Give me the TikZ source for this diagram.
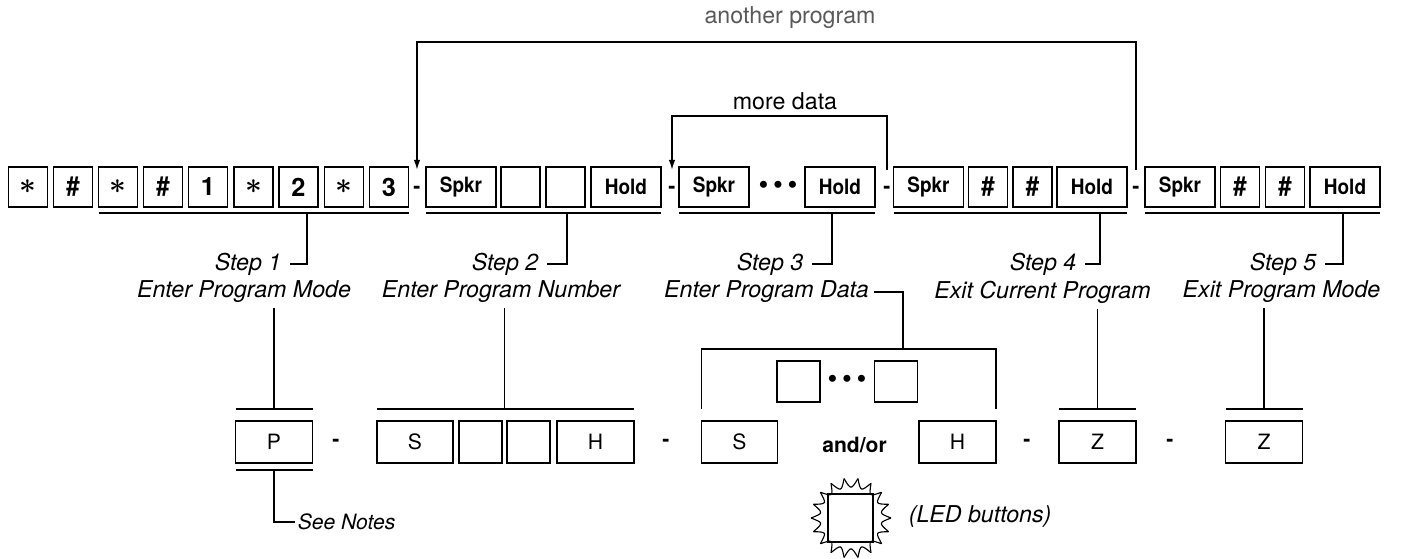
\documentclass[tikz,border=0pt]{standalone}
\usepackage{fontspec}
\setmainfont{TeX Gyre Heros}
\newfontfamily\keyface[FakeStretch=0.9]{TeX Gyre Heros}
\usetikzlibrary{calc, arrows.meta}

\newcommand{\lblfont}{\fontsize{16.5}{18}\selectfont\itshape}
\newcommand{\keyfnt}{\keyface\fontsize{15}{17}\selectfont\bfseries}
\newcommand{\digfnt}{\fontsize{18}{20}\selectfont\bfseries}
\newcommand{\boxfnt}{\fontsize{15}{17}\selectfont}
\newcommand{\astk}{{\fontsize{22}{22}\selectfont\boldmath$\ast$}}
\newcommand{\hsh}{{\fontsize{19}{20}\selectfont\bfseries\#}}
\newcommand{\threedots}{{\fontsize{20}{20}\selectfont
    \textbullet\,\textbullet\,\textbullet}}

\begin{document}
\begin{tikzpicture}[x=0.25mm, y=-0.25mm, line width=1.1pt,
    keysm/.style={draw, line width=1.2pt, minimum width=9.75mm,
                  minimum height=10mm, inner sep=0pt, outer sep=0pt,
                  font=\keyfnt},
    keybig/.style={keysm, minimum width=17.5mm},
    sepdash/.style={inner sep=0pt, outer sep=0pt, minimum height=10mm,
                    font=\boxfnt\bfseries},
    btn/.style={draw, line width=1.2pt, minimum width=19.25mm,
                minimum height=10.5mm, inner sep=0pt, outer sep=0pt,
                font=\boxfnt},
    btnsm/.style={btn, minimum width=10.75mm},
    steplbl/.style={font=\lblfont, anchor=east, inner sep=2mm},
    title/.style={font=\lblfont},
    flow/.style={-{Latex[length=2.5mm,width=1.6mm]}}]
    \useasboundingbox (0,0) rectangle (1407,559);

    % ── Step 1 keys: * # * # 1 * 2 * 3 ───────────────────────────────
    \node[keysm] (k1) at (28,187)    {\astk};
    \node[keysm] (k2) at (73,187)    {\hsh};
    \node[keysm] (k3) at (118,187)   {\astk};
    \node[keysm] (k4) at (163,187)   {\hsh};
    \node[keysm, font=\digfnt] (k5) at (208,187) {1};
    \node[keysm] (k6) at (253.5,187) {\astk};
    \node[keysm, font=\digfnt] (k7) at (298.5,187) {2};
    \node[keysm] (k8) at (344,187)   {\astk};
    \node[keysm, font=\digfnt] (k9) at (389,187) {3};
    \node[sepdash] (d1) at (417,190) {-};

    % ── Step 2 keys ──────────────────────────────────────────────────
    \node[keybig] (spk2) at (461,187)   {Spkr};
    \node[keysm]  (b2a)  at (520.5,187) {};
    \node[keysm]  (b2b)  at (565.5,187) {};
    \node[keybig] (hld2) at (626,187)   {Hold};
    \node[sepdash] (d2) at (672,190) {-};

    % ── Step 3 keys ──────────────────────────────────────────────────
    \node[keybig] (spk3) at (714,187) {Spkr};
    \node (dots3) at (778,188) {\threedots};
    \node[keybig] (hld3) at (840,187) {Hold};
    \node[sepdash] (d3) at (887,190) {-};

    % ── Step 4 keys ──────────────────────────────────────────────────
    \node[keybig] (spk4) at (928.5,187)  {Spkr};
    \node[keysm]  (h4a)  at (988,187)    {\hsh};
    \node[keysm]  (h4b)  at (1032.5,187) {\hsh};
    \node[keybig] (hld4) at (1092,187)   {Hold};
    \node[sepdash] (d4) at (1136,190) {-};

    % ── Step 5 keys ──────────────────────────────────────────────────
    \node[keybig] (spk5) at (1180,187) {Spkr};
    \node[keysm]  (h5a)  at (1240,187) {\hsh};
    \node[keysm]  (h5b)  at (1285,187) {\hsh};
    \node[keybig] (hld5) at (1345,187) {Hold};

    % ── Loops back ───────────────────────────────────────────────────
    \coordinate (apTop) at (775,42);
    \coordinate (mdTop) at (775,116);
    \node[font=\fontsize{16.5}{18}\selectfont, text=black!65] (aptxt)
          at (790,18) {another program};
    \node[font=\fontsize{16.5}{18}\selectfont] (mdtxt)
          at (785,101) {more data};
    \draw[flow] (d4.north) |- (apTop) -| (d1.north);
    \draw[flow] (d3.north) |- (mdTop) -| (d2.north);

    % ── Underlines and step labels ───────────────────────────────────
    \draw ([yshift=-1.5mm]k3.south west) -- ([yshift=-1.5mm]k9.south east);
    \draw ([yshift=-1.5mm]spk2.south west) -- ([yshift=-1.5mm]hld2.south east);
    \draw ([yshift=-1.5mm]spk3.south west) -- ([yshift=-1.5mm]hld3.south east);
    \draw ([yshift=-1.5mm]spk4.south west) -- ([yshift=-1.5mm]hld4.south east);
    \draw ([yshift=-1.5mm]spk5.south west) -- ([yshift=-1.5mm]hld5.south east);
    \coordinate (u1) at (307,213);
    \coordinate (u2) at (567,213);
    \coordinate (u3) at (832,213);
    \coordinate (u4) at (1100,213);
    \coordinate (u5) at (1343,213);

    \node[steplbl] (s1) at (290,264)  {Step 1};
    \node[steplbl] (s2) at (547,264)  {Step 2};
    \node[steplbl] (s3) at (812,264)  {Step 3};
    \node[steplbl] (s4) at (1085,264) {Step 4};
    \node[steplbl] (s5) at (1325,264) {Step 5};
    \draw (u1) |- (s1.east);
    \draw (u2) |- (s2.east);
    \draw (u3) |- (s3.east);
    \draw (u4) |- (s4.east);
    \draw (u5) |- (s5.east);

    \node[title] (t1) at (244,292)    {Enter Program Mode};
    \node[title] (t2) at (501,292)    {Enter Program Number};
    \node[title] (t3) at (766.5,292)  {Enter Program Data};
    \node[title] (t4) at (1042.5,292) {Exit Current Program};
    \node[title] (t5) at (1281.5,292) {Exit Program Mode};

    % ── LED button row ───────────────────────────────────────────────
    \node[btn] (p1) at (274,442) {P};
    \node[sepdash] (d5) at (336,443) {-};
    \node[btn, minimum width=19mm] (s2b) at (415,442) {S};
    \node[btnsm] (b2c) at (480.5,442) {};
    \node[btnsm] (b2d) at (528.5,442) {};
    \node[btn] (h2b) at (595.5,442) {H};
    \node[sepdash] (d6) at (666,443) {-};
    \node[btn, minimum width=19mm] (s3b) at (739.5,442) {S};
    \node[font=\boxfnt\bfseries] (andor) at (854.5,445) {and/or};
    \node[btn] (h3b) at (957.5,442) {H};
    \node[btnsm, minimum height=10.25mm] (e3a) at (798.5,381.5) {};
    \node (dots3b) at (847,382) {\threedots};
    \node[btnsm, minimum height=10.25mm] (e3b) at (896,381.5) {};
    \node[sepdash] (d7) at (1027,443) {-};
    \node[btn] (z4) at (1097.5,442) {Z};
    \node[sepdash] (d8) at (1170,443) {-};
    \node[btn] (z5) at (1264,442) {Z};

    % bars over / under the buttons
    \draw ([yshift=3mm]p1.north west) -- ([yshift=3mm]p1.north east);
    \draw ([yshift=-1.75mm]p1.south west) -- ([yshift=-1.75mm]p1.south east);
    \draw ([yshift=3mm]s2b.north west) -- ([yshift=3mm]h2b.north east);
    \draw ([yshift=3mm]z4.north west) -- ([yshift=3mm]z4.north east);
    \draw ([yshift=3mm]z5.north west) -- ([yshift=3mm]z5.north east);
    \coordinate (brk) at (903,349);
    \draw ([yshift=3mm]s3b.north west) |- (brk) -| ([yshift=3mm]h3b.north east);

    % titles down to the buttons
    \coordinate (g2) at ($(b2c.north east)!0.5!(b2d.north west)$);
    \draw (p1.north |- t1.south) -- ([yshift=3mm]p1.north);
    \draw (g2 |- t2.south) -- ([yshift=3mm]g2);
    \draw (t3.east) -| (brk);
    \draw (z4.north |- t4.south) -- ([yshift=3mm]z4.north);
    \draw (z5.north |- t5.south) -- ([yshift=3mm]z5.north);

    % ── Notes and LED legend ─────────────────────────────────────────
    \node[font=\fontsize{15}{17}\selectfont\itshape, anchor=west,
          inner sep=0.5mm] (notes) at (295,522) {See Notes};
    \draw ([yshift=-1.75mm]p1.south) |- (notes.west);

    \node[draw, line width=1.2pt, minimum width=11.25mm, minimum height=12mm,
          inner sep=0pt] (led) at (850.5,518) {};
    \begin{scope}[shift={(851,518)}, line width=0.8pt]
      \foreach \a [evaluate=\a as \b using \a+10,
                   evaluate=\a as \c using \a+20] in {0,20,...,340}
        \draw (\a:40) .. controls (\b:28) .. (\c:40);
    \end{scope}
    \node[font=\lblfont, anchor=west, inner sep=0pt] (ledtxt)
          at (908,517) {(LED buttons)};
\end{tikzpicture}
\end{document}
